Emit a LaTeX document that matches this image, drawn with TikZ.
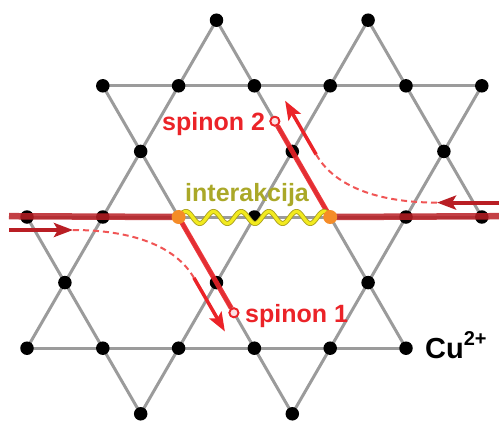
\documentclass[tikz,border=0pt]{standalone}
\usepackage{fontspec}
\setmainfont{Liberation Sans}
\usetikzlibrary{arrows.meta,calc}
\definecolor{latgray}{RGB}{155,155,155}
\definecolor{darkred}{RGB}{185,30,36}
\definecolor{spinred}{RGB}{235,35,40}
\definecolor{dashred}{RGB}{240,85,85}
\definecolor{olivetext}{RGB}{170,168,40}
\definecolor{wavey}{RGB}{242,234,30}
\definecolor{waveo}{RGB}{170,160,30}
\definecolor{orangedot}{RGB}{245,140,40}
\definecolor{circfill}{RGB}{252,225,228}
\begin{document}
\begin{tikzpicture}[x=1pt,y=-1pt,
  latline/.style={draw=latgray,line width=3pt},
  dot/.style={circle,fill=black,inner sep=0pt,minimum size=13.5pt},
  odot/.style={circle,fill=orangedot,inner sep=0pt,minimum size=14pt},
  endcirc/.style={circle,draw=spinred,fill=circfill,line width=1.8pt,inner sep=0pt,minimum size=9pt},
  hred/.style={draw=darkred,line width=6.5pt,opacity=0.85},
  sred/.style={draw=spinred,line width=5pt,opacity=0.9},
  harrow/.style={draw=darkred,line width=4pt,-{Stealth[length=19pt,width=14pt,inset=4pt]}},
  sarrow/.style={draw=spinred,line width=3.5pt,-{Stealth[length=19pt,width=14pt,inset=4pt]}},
  dashcurve/.style={draw=dashred,line width=2pt,dash pattern=on 6pt off 4pt},
  lbl/.style={inner sep=0pt,anchor=base west,font=\fontsize{25}{30}\selectfont\bfseries}
]
\useasboundingbox (0,0) rectangle (499,421);
% lattice sites
\foreach \c/\r in {5/0,9/0,
  2/1,4/1,6/1,8/1,10/1,12/1,
  3/2,7/2,11/2,
  0/3,2/3,4/3,6/3,8/3,10/3,12/3,
  1/4,5/4,9/4,
  0/5,2/5,4/5,6/5,8/5,10/5,
  3/6,7/6}
  \coordinate (p-\c-\r) at ({27+37.9*\c},{20.2+65.6*\r});
% lattice lines
\draw[latline] (p-5-0) -- (p-0-5);
\draw[latline] (p-9-0) -- (p-3-6);
\draw[latline] (p-12-1) -- (p-7-6);
\draw[latline] (p-0-3) -- (p-3-6);
\draw[latline] (p-2-1) -- (p-7-6);
\draw[latline] (p-5-0) -- (p-10-5);
\draw[latline] (p-9-0) -- (p-12-3);
\draw[latline] (p-2-1) -- (p-12-1);
\draw[latline] (p-0-3) -- (p-12-3);
\draw[latline] (p-0-5) -- (p-10-5);
% black sites
\foreach \c/\r in {5/0,9/0,
  2/1,4/1,6/1,8/1,10/1,12/1,
  3/2,7/2,11/2,
  0/3,2/3,6/3,10/3,12/3,
  1/4,5/4,9/4,
  0/5,2/5,4/5,6/5,8/5,10/5,
  3/6,7/6}
  \node[dot] (d-\c-\r) at (p-\c-\r) {};
% special points
\coordinate (o1) at (p-4-3);
\coordinate (o2) at (p-8-3);
\coordinate (Ledge) at (9,216.2);
\coordinate (Redge) at (499,216.2);
\node[endcirc] (c1) at ($(p-4-3)!0.73!(p-6-5)$) {};
\node[endcirc] (c2) at ($(p-8-3)!0.73!(p-6-1)$) {};
% thick horizontal red lines
\draw[hred] (Ledge) -- (o1);
\draw[hred] (o2) -- (Redge);
% spinon strings
\draw[sred] (o1) -- (c1);
\draw[sred] (o2) -- (c2);
% incoming arrows and paths
\coordinate (la0) at (9,230);
\coordinate (la1) at (73,230);
\coordinate (ls) at (193.9,277.8);
\coordinate (lt) at (224.9,331.5);
\coordinate (ra0) at (499,202.6);
\coordinate (ra1) at (437,202.6);
\coordinate (rs) at (316.1,154.4);
\coordinate (rt) at (285.1,100.7);
\draw[harrow] (la0) -- (la1);
\draw[harrow] (ra0) -- (ra1);
\draw[dashcurve] (la1) .. controls (130,230) and (175,245) .. (ls);
\draw[dashcurve] (ra1) .. controls (380,202.6) and (335,187.4) .. (rs);
\draw[sarrow] (ls) -- (lt);
\draw[sarrow] (rs) -- (rt);
% interaction wave
\draw[waveo,line width=5pt] plot[domain=0:1,samples=220,smooth] ({179+152*\x},{217.5-6*sin(5.5*360*\x)});
\draw[wavey,line width=3.2pt] plot[domain=0:1,samples=220,smooth] ({179+152*\x},{217.5-6*sin(5.5*360*\x)});
% orange ends
\node[odot] (od1) at (o1) {};
\node[odot] (od2) at (o2) {};
\node[endcirc] at (c1) {};
\node[endcirc] at (c2) {};
% labels
\node[lbl,text=spinred] (t2) at (162,130) {spinon 2};
\node[lbl,text=spinred] (t1) at (245,322.5) {spinon 1};
\node[lbl,text=olivetext] (ti) at (185,201) {interakcija};
\node[inner sep=0pt,anchor=base west,font=\bfseries] (cu) at (425,358)
  {\fontsize{29}{30}\selectfont Cu\raisebox{13pt}{\fontsize{20}{20}\selectfont 2+}};
\end{tikzpicture}
\end{document}
